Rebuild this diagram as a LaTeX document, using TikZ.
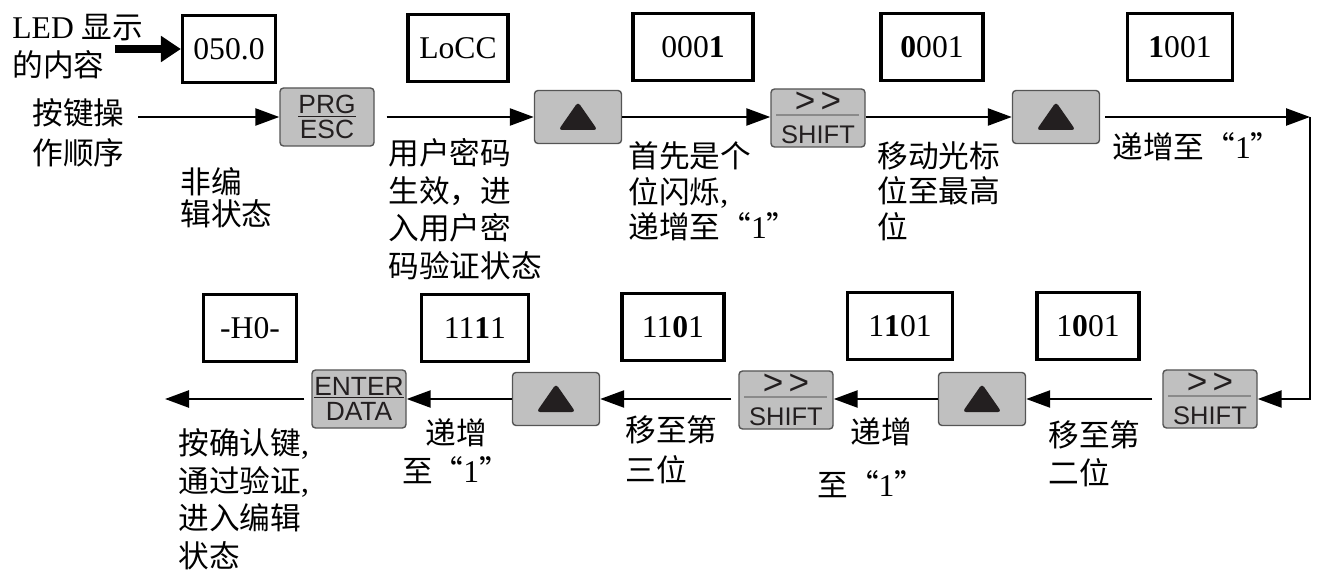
\documentclass[tikz,border=0pt]{standalone}
\usepackage{xcolor}
\usepackage{tikz}
\usepackage{fontspec}
\setmainfont{Liberation Serif}
\newfontfamily\cjk[Scale=0.97,RawFeature=+fwid]{Noto Sans CJK SC}
\newfontfamily\keyfont{Liberation Sans}
\usetikzlibrary{
  arrows.meta,
  positioning,
  calc
}
\definecolor{kpFill}{HTML}{C0C0C0}
\definecolor{kpEdge}{HTML}{555555}
\definecolor{kpInk}{HTML}{231F20}
\definecolor{kpRule}{HTML}{8A8A8A}
\newcommand{\shiftface}{{\fontsize{20}{17.5}\selectfont >\kern3pt>}\\SHIFT}
\tikzset{
  display/.style={
    draw, line width=1.8pt, minimum height=13.4mm, inner sep=0pt,
    font=\fontsize{18}{20}\selectfont
  },
  keybox/.style={
    draw=kpEdge, fill=kpFill, line width=0.8pt, rounded corners=2pt,
    minimum width=18.8mm, minimum height=11.6mm, inner sep=0pt,
    align=center, text=kpInk, font=\keyfont\fontsize{15}{14.7}\selectfont
  },
  upkey/.style={
    keybox, minimum width=17.4mm, minimum height=10.6mm,
    path picture={\fill[kpInk] ($(path picture bounding box.center)+(-19.5,13)$) -- ++(39,0) -- ++(-19.5,-28) -- cycle;}
  },
  shiftkey/.style={
    keybox, font=\keyfont\fontsize{14.5}{17.5}\selectfont,
    path picture={\draw[kpRule, line width=0.9pt] ($(path picture bounding box.center)+(-42,-3)$) -- ++(83,0);}
  },
  flow/.style={-{Triangle[length=4.8mm, width=3.4mm]}, line width=1.4pt},
  bigflow/.style={-{Triangle[length=4mm, width=5mm]}, line width=5pt},
  note/.style={
    anchor=north west, inner sep=0pt, align=left,
    font=\fontsize{18}{#1}\selectfont\cjk
  },
  note/.default=20
}

\begin{document}
\begin{tikzpicture}[x=0.2mm, y=-0.2mm]
  \useasboundingbox (0,0) rectangle (1319,574);
  \foreach \nm/\px/\py/\w/\txt in {
    d1/229/49/93/{050.0}, d2/458/48/100/{LoCC}, d3/693/47/120/{000\textbf{1}},
    d4/932/47/102/{\textbf{0}001}, d5/1180/47/105/{\textbf{1}001},
    d6/250/328/93/{-H0-}, d7/475/328/107/{11\textbf{1}1}, d8/673/327/102/{11\textbf{0}1},
    d9/900/326/105/{1\textbf{1}01}, d10/1088/326/102/{1\textbf{0}01}}{
    \node[display, minimum width=\w*0.2mm] (\nm) at (\px, \py) {\txt};
  }

  \node[keybox] (k1) at (327,117) {\underline{PRG}\\ESC};
  \node[upkey] (u1) at (578,117) {};
  \node[shiftkey] (s1) at (818,118) {\shiftface};
  \node[upkey] (u2) at (1056,117) {};
  \node[shiftkey] (s2) at (1210,399) {\shiftface};
  \node[upkey] (u3) at (982,399) {};
  \node[shiftkey] (s3) at (786,400) {\shiftface};
  \node[upkey] (u4) at (556,399) {};
  \node[keybox] (k2) at (359,399) {\underline{ENTER}\\DATA};

  \coordinate (ledin) at (115,49);
  \coordinate (seqin) at (138,117);
  \coordinate (turn) at (1310,117);
  \coordinate (done) at (165,399);
  \draw[bigflow] (ledin) -- (d1.west);
  \draw[flow] (seqin) -- (k1.west);
  \draw[flow, shorten <=2.4mm] (k1.east) -- (u1.west);
  \draw[flow] (u1.east) -- (s1.west |- u1);
  \draw[flow] (s1.east |- u2) -- (u2.west);
  \draw[flow, shorten <=1mm] (u2.east) -- (turn);
  \draw[flow] (turn) |- (s2.east);
  \draw[flow, shorten <=2mm] (s2.west) -- (u3.east);
  \draw[flow] (u3.west) -- (s3.east |- u3);
  \draw[flow, shorten <=1.4mm] (s3.west |- u4) -- (u4.east);
  \draw[flow] (u4.west) -- (k2.east);
  \draw[flow, shorten <=1.4mm] (k2.west) -- (done);

  \node[note=21.5] (led) at (12,14) {\textrm{LED }显示\\的内容};
  \node[note=23] (seq) at (32,98) {按键操\\作顺序};
  \node[note=18.2] (lbl1) at (180,167) {非编\\辑状态};
  \node[note=21.5] (lbl2) at (388,138) {用户密码\\生效，进\\入用户密\\码验证状态};
  \node[note=20.4] (lbl3) at (628,141) {首先是个\\位闪烁\textrm{,}\\递增至“\textrm{1}”};
  \node[note=20.4] (lbl4) at (877,141) {移动光标\\位至最高\\位};
  \node[note] (lbl5) at (1112,132) {递增至“\textrm{1}”};
  \node[note=21.5] (lbl6) at (178,428) {按确认键\textrm{,}\\通过验证\textrm{,}\\进入编辑\\状态};
  \node[note=21.5, anchor=north, align=center] (lbl7) at (456,418) {递增\\至“\textrm{1}”};
  \node[note=22.7] (lbl8) at (625,415) {移至第\\三位};
  \node[note] (lbl9) at (850,417) {递增};
  \node[note] (lbl10) at (817,470) {至“\textrm{1}”};
  \node[note=22] (lbl11) at (1048,420) {移至第\\二位};
\end{tikzpicture}
\end{document}
